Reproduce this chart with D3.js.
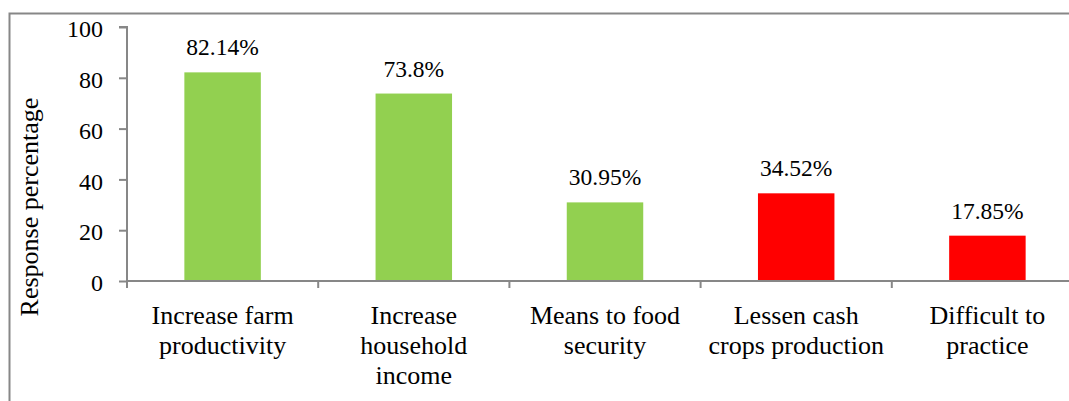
<!DOCTYPE html>
<html>
<head>
<meta charset="utf-8">
<script src="https://cdn.jsdelivr.net/npm/d3@7"></script>
<style>
html,body{margin:0;padding:0;background:#fff;overflow:hidden;}
svg{display:block;}
svg text{font-family:"Liberation Serif","Times New Roman",Tinos,"DejaVu Serif",serif !important;fill:#000;}
</style>
</head>
<body>
<svg id="chart" width="1069" height="401" font-family="Liberation Serif, serif"></svg>
<script>
const categories = [
  ["Increase farm", "productivity"],
  ["Increase", "household", "income"],
  ["Means to food", "security"],
  ["Lessen cash", "crops production"],
  ["Difficult to", "practice"]
];
const values = [82.14, 73.8, 30.95, 34.52, 17.85];
const valueLabels = ["82.14%", "73.8%", "30.95%", "34.52%", "17.85%"];
const barColors = ["#92D050", "#92D050", "#92D050", "#FF0000", "#FF0000"];
const yTicks = [0, 20, 40, 60, 80, 100];
const yTitle = "Response percentage";

(function () {
const svg = d3.select("#chart");
const gray = "#878787";
const FONT = "Liberation Serif, Times New Roman, serif";

// outer chart-area border (cropped at right/bottom)
svg.append("rect")
  .attr("x", 9.5).attr("y", 13.5)
  .attr("width", 1100).attr("height", 420)
  .attr("fill", "none").attr("stroke", gray).attr("stroke-width", 2);

const pLeft = 127, pTop = 27, pBottom = 281;
const step = 191.2;
const keys = categories.map((d, i) => i);
const x = d3.scaleBand().domain(keys)
  .range([pLeft, pLeft + step * keys.length])
  .paddingInner(0.6).paddingOuter(0.3);
const y = d3.scaleLinear().domain([0, 100]).range([pBottom, pTop]);

// bars
svg.selectAll("rect.bar").data(values).enter().append("rect")
  .attr("class", "bar")
  .attr("x", (d, i) => x(i))
  .attr("width", x.bandwidth())
  .attr("y", d => y(d))
  .attr("height", d => y(0) - y(d))
  .attr("fill", (d, i) => barColors[i]);

// y axis
const yAxis = d3.axisLeft(y).tickValues(yTicks).tickSize(8).tickPadding(16).tickFormat(d3.format("d"));
const gy = svg.append("g").attr("transform", `translate(${pLeft},0)`).call(yAxis)
  .attr("font-family", FONT).attr("font-size", "24px");
gy.select(".domain").attr("d", `M-8,${pTop}H0V${pBottom + 7}`);
gy.selectAll("path,line").attr("stroke", gray).attr("stroke-width", 2);
gy.selectAll("text").attr("fill", "#000").attr("dy", "0.40em");

// x axis line
svg.append("line")
  .attr("x1", pLeft).attr("x2", 1069)
  .attr("y1", y(0)).attr("y2", y(0))
  .attr("stroke", gray).attr("stroke-width", 2);
// category boundary ticks
const bounds = keys.slice(1).map(i => x(i) - x.step() * x.paddingInner() / 2);
svg.selectAll("line.xt").data(bounds).enter().append("line")
  .attr("class", "xt")
  .attr("x1", d => d).attr("x2", d => d)
  .attr("y1", y(0)).attr("y2", y(0) + 7)
  .attr("stroke", gray).attr("stroke-width", 2);

// category labels
categories.forEach((lines, i) => {
  const cx = x(i) + x.bandwidth() / 2;
  const t = svg.append("text")
    .attr("text-anchor", "middle")
    .attr("x", cx)
    .attr("y", 324)
    .attr("font-family", FONT)
    .attr("font-size", "26px");
  lines.forEach((ln, j) => {
    t.append("tspan").attr("x", cx)
      .attr("dy", j === 0 ? 0 : 30).text(ln);
  });
});

// value labels
svg.selectAll("text.val").data(values).enter().append("text")
  .attr("class", "val")
  .attr("text-anchor", "middle")
  .attr("x", (d, i) => x(i) + x.bandwidth() / 2)
  .attr("y", d => y(d) - 17)
  .attr("font-family", FONT)
  .attr("font-size", "23.5px")
  .text((d, i) => valueLabels[i]);

// y title
svg.append("text")
  .attr("text-anchor", "middle")
  .attr("transform", "translate(38,207) rotate(-90)")
  .attr("font-family", FONT)
  .attr("font-size", "26px")
  .text(yTitle);
})();
</script>
</body>
</html>
